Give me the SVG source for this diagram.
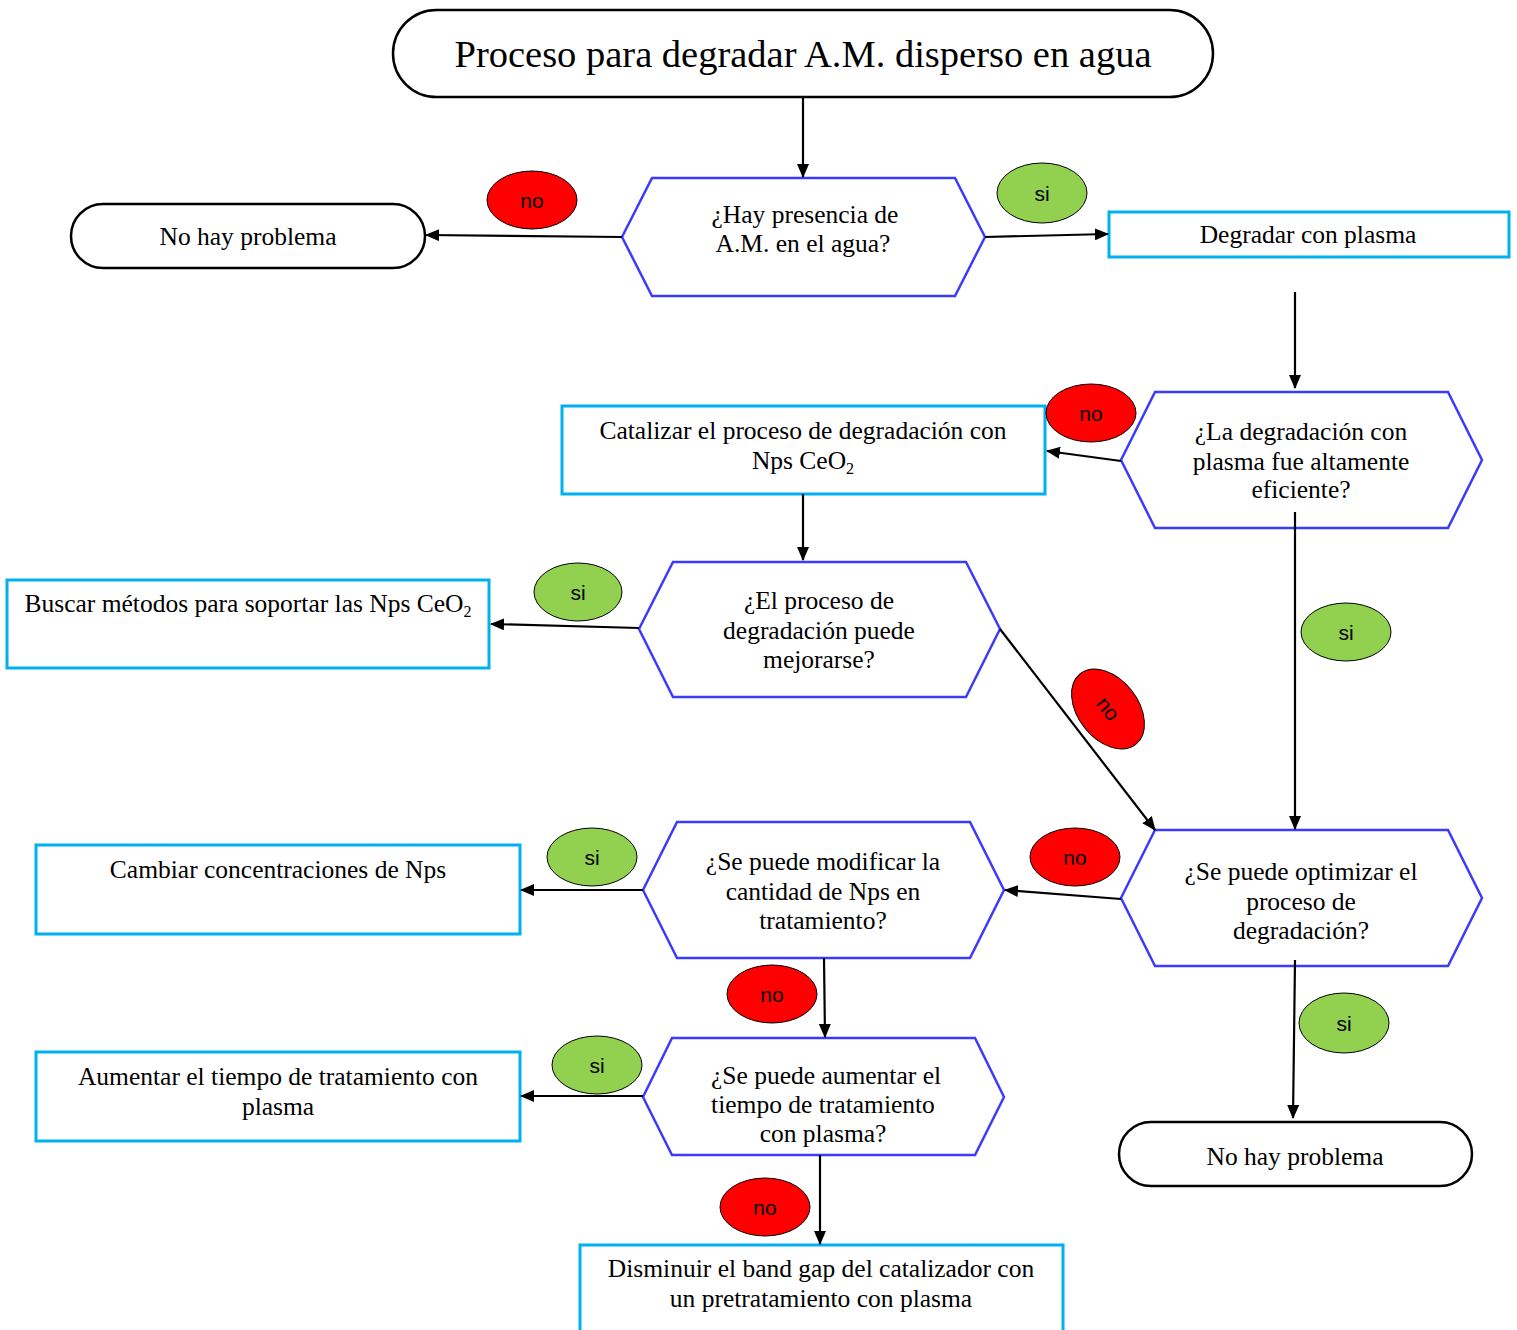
<svg xmlns="http://www.w3.org/2000/svg" width="1517" height="1330" viewBox="0 0 1517 1330">
<style>
.t{font-family:"Liberation Serif","Times New Roman",serif;font-size:25.5px;fill:#000;text-anchor:middle}
.title{font-family:"Liberation Serif","Times New Roman",serif;font-size:38.5px;fill:#000;text-anchor:middle}
.hex{fill:#fff;stroke:#3b3bff;stroke-width:2.5}
.box{fill:#fff;stroke:#00b0f0;stroke-width:3}
.term{fill:#fff;stroke:#000;stroke-width:2.5}
.no{fill:#ff0000;stroke:#000;stroke-width:1}
.si{fill:#92d050;stroke:#000;stroke-width:1}
.lb{font-family:"Liberation Sans",Arial,sans-serif;font-size:21px;fill:#000;text-anchor:middle}
.c{fill:none;stroke:#000;stroke-width:2.2;marker-end:url(#ah)}
.sub{font-size:16px}
</style>
<defs>
<marker id="ah" markerUnits="userSpaceOnUse" markerWidth="14" markerHeight="12" refX="13" refY="6" orient="auto">
<path d="M0,0 L14,6 L0,12 z" fill="#000"/>
</marker>
</defs>

<g id="title">
<rect class="term" x="393" y="10" width="820" height="87" rx="43.5"/>
<text class="title" x="803" y="67">Proceso para degradar A.M. disperso en agua</text>
</g>

<g id="q1">
<polygon class="hex" points="622,237 652,178 955,178 985,237 955,296 652,296"/>
<text class="t" x="805" y="223">¿Hay presencia de</text>
<text class="t" x="803" y="252">A.M. en el agua?</text>
</g>

<g id="end1">
<rect class="term" x="71" y="204" width="354" height="64" rx="32"/>
<text class="t" x="248" y="245">No hay problema</text>
</g>

<g id="degradar">
<rect class="box" x="1109" y="212" width="400" height="45"/>
<text class="t" x="1308" y="243">Degradar con plasma</text>
</g>

<g id="q2">
<polygon class="hex" points="1121,460 1155,392 1448,392 1482,460 1448,528 1155,528"/>
<text class="t" x="1301" y="440">¿La degradación con</text>
<text class="t" x="1301" y="470">plasma fue altamente</text>
<text class="t" x="1301" y="498">eficiente?</text>
</g>

<g id="catalizar">
<rect class="box" x="562" y="406" width="483" height="88"/>
<text class="t" x="803" y="439">Catalizar el proceso de degradación con</text>
<text class="t" x="803" y="469">Nps CeO<tspan class="sub" dy="5">2</tspan></text>
</g>

<g id="q3">
<polygon class="hex" points="639,629 673,562 966,562 1000,629 966,697 673,697"/>
<text class="t" x="819" y="609">¿El proceso de</text>
<text class="t" x="819" y="639">degradación puede</text>
<text class="t" x="819" y="668">mejorarse?</text>
</g>

<g id="buscar">
<rect class="box" x="7" y="580" width="482" height="88"/>
<text class="t" x="248" y="612">Buscar métodos para soportar las Nps CeO<tspan class="sub" dy="5">2</tspan></text>
</g>

<g id="q4">
<polygon class="hex" points="1121,898 1155,830 1448,830 1482,898 1448,966 1155,966"/>
<text class="t" x="1301" y="880">¿Se puede optimizar el</text>
<text class="t" x="1301" y="910">proceso de</text>
<text class="t" x="1301" y="939">degradación?</text>
</g>

<g id="q5">
<polygon class="hex" points="643,890 677,822 970,822 1004,890 970,958 677,958"/>
<text class="t" x="823" y="870">¿Se puede modificar la</text>
<text class="t" x="823" y="900">cantidad de Nps en</text>
<text class="t" x="823" y="929">tratamiento?</text>
</g>

<g id="cambiar">
<rect class="box" x="36" y="845" width="484" height="89"/>
<text class="t" x="278" y="878">Cambiar concentraciones de Nps</text>
</g>

<g id="q6">
<polygon class="hex" points="643,1097 672,1038 975,1038 1004,1097 975,1155 672,1155"/>
<text class="t" x="826" y="1084">¿Se puede aumentar el</text>
<text class="t" x="823" y="1113">tiempo de tratamiento</text>
<text class="t" x="823" y="1142">con plasma?</text>
</g>

<g id="aumentar">
<rect class="box" x="36" y="1052" width="484" height="89"/>
<text class="t" x="278" y="1085">Aumentar el tiempo de tratamiento con</text>
<text class="t" x="278" y="1115">plasma</text>
</g>

<g id="end2">
<rect class="term" x="1119" y="1122" width="353" height="64" rx="32"/>
<text class="t" x="1295" y="1165">No hay problema</text>
</g>

<g id="disminuir">
<rect class="box" x="580" y="1245" width="483" height="95"/>
<text class="t" x="821" y="1277">Disminuir el band gap del catalizador con</text>
<text class="t" x="821" y="1307">un pretratamiento con plasma</text>
</g>

<g id="connectors">
<line class="c" x1="803" y1="97" x2="803" y2="177"/>
<line class="c" x1="622" y1="237" x2="426" y2="235"/>
<line class="c" x1="985" y1="237" x2="1108" y2="234"/>
<line class="c" x1="1295" y1="292" x2="1295" y2="388"/>
<line class="c" x1="1121" y1="461" x2="1047" y2="451"/>
<line class="c" x1="803" y1="494" x2="803" y2="560"/>
<line class="c" x1="639" y1="628" x2="491" y2="624"/>
<line class="c" x1="1000" y1="629" x2="1155" y2="830"/>
<line class="c" x1="1295" y1="512" x2="1295" y2="829"/>
<line class="c" x1="1121" y1="899" x2="1005" y2="890"/>
<line class="c" x1="643" y1="890" x2="521" y2="890"/>
<line class="c" x1="824" y1="958" x2="825" y2="1037"/>
<line class="c" x1="643" y1="1096" x2="521" y2="1096"/>
<line class="c" x1="1295" y1="960" x2="1293" y2="1118"/>
<line class="c" x1="820" y1="1155" x2="820" y2="1244"/>
</g>

<g id="labels">
<ellipse class="no" cx="532" cy="200" rx="45" ry="29"/><text class="lb" x="532" y="208">no</text>
<ellipse class="si" cx="1042" cy="193" rx="45" ry="30"/><text class="lb" x="1042" y="201">si</text>
<ellipse class="no" cx="1091" cy="413" rx="45" ry="29"/><text class="lb" x="1091" y="421">no</text>
<ellipse class="si" cx="578" cy="592" rx="44" ry="29"/><text class="lb" x="578" y="600">si</text>
<g transform="translate(1108,709) rotate(52)">
<ellipse class="no" cx="0" cy="0" rx="45" ry="30"/><text class="lb" x="0" y="7">no</text>
</g>
<ellipse class="si" cx="1346" cy="632" rx="45" ry="29"/><text class="lb" x="1346" y="640">si</text>
<ellipse class="no" cx="1075" cy="857" rx="45" ry="29"/><text class="lb" x="1075" y="865">no</text>
<ellipse class="si" cx="592" cy="857" rx="45" ry="29"/><text class="lb" x="592" y="865">si</text>
<ellipse class="no" cx="772" cy="994" rx="45" ry="29"/><text class="lb" x="772" y="1002">no</text>
<ellipse class="si" cx="597" cy="1065" rx="45" ry="29"/><text class="lb" x="597" y="1073">si</text>
<ellipse class="si" cx="1344" cy="1023" rx="45" ry="30"/><text class="lb" x="1344" y="1031">si</text>
<ellipse class="no" cx="765" cy="1207" rx="45" ry="29"/><text class="lb" x="765" y="1215">no</text>
</g>
</svg>
